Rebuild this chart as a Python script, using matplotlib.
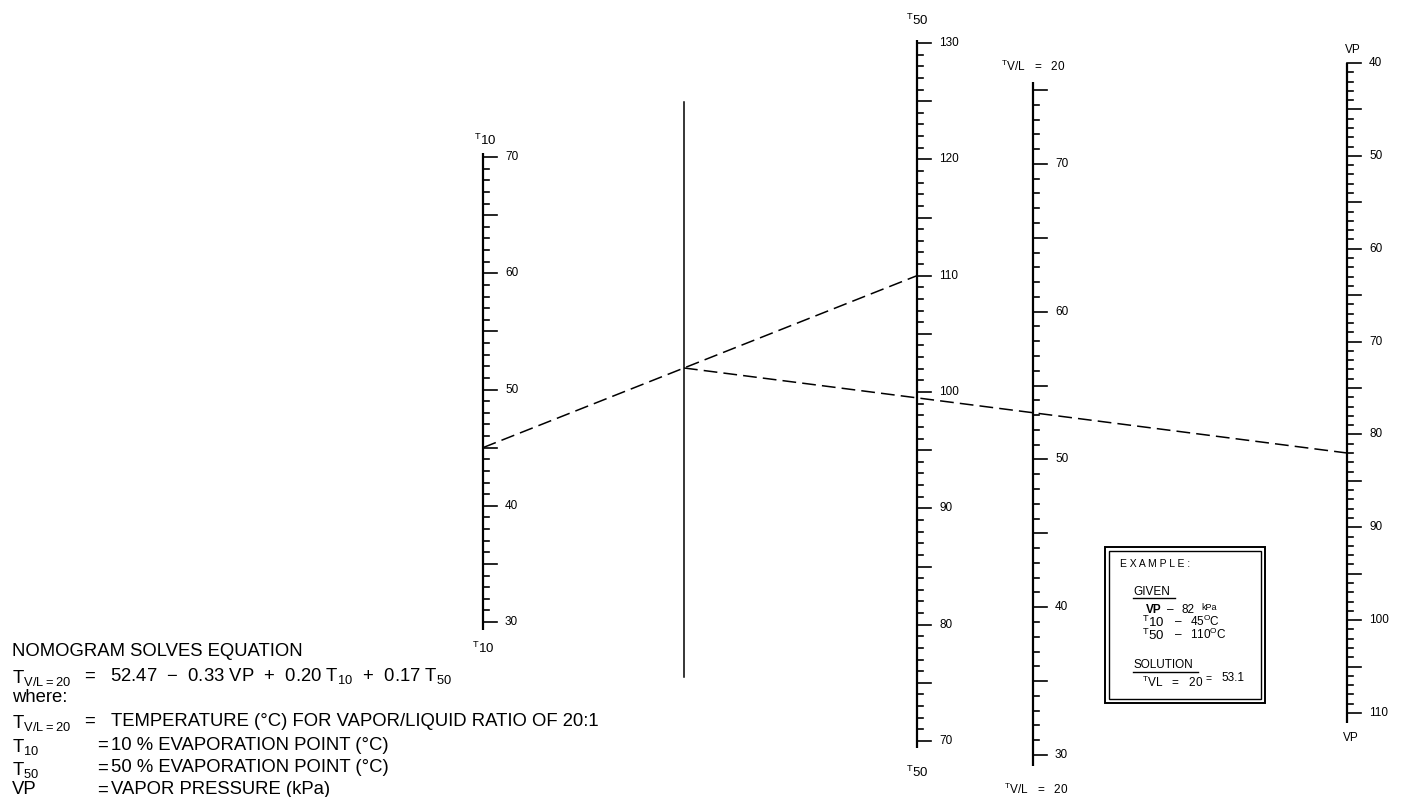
import matplotlib
matplotlib.use("Agg")
import matplotlib.pyplot as plt

plt.rcParams["font.family"] = ["Liberation Sans", "DejaVu Sans"]
plt.rcParams["mathtext.fontset"] = "custom"
plt.rcParams["mathtext.rm"] = "Liberation Sans"

# dados do nomograma
t10_faixa = (30, 70)
t50_faixa = (70, 130)
tvl_faixa = (30, 75)
vp_faixa = (40, 110)

# equacao: T_V/L=20 = a + b*VP + c*T10 + d*T50
coef_a, coef_vp, coef_t10, coef_t50 = 52.47, -0.33, 0.20, 0.17

# exemplo
ex_vp = 82
ex_t10 = 45
ex_t50 = 110
ex_tvl = coef_a + coef_vp * ex_vp + coef_t10 * ex_t10 + coef_t50 * ex_t50

# layout das escalas: x, (valor_a, y_a), (valor_b, y_b)
escalas = {
    "t10": (483, (70, 157), (30, 622)),
    "t50": (917, (130, 43), (70, 741)),
    "tvl": (1033, (75, 90), (30, 755)),
    "vp": (1347, (40, 63), (110, 713)),
}
x_pivo = 684


def y_de(escala, v):
    _, (va, ya), (vb, yb) = escalas[escala]
    return ya + (v - va) * (yb - ya) / (vb - va)


fig = plt.figure(figsize=(14.03, 7.97), dpi=100)
ax = fig.add_axes([0, 0, 1, 1])
ax.set_xlim(0, 1403)
ax.set_ylim(797, 0)
ax.axis("off")

fs_num = 8.5


def desenhar_escala(nome, faixa, topo_extra=0, base_extra=0):
    x = escalas[nome][0]
    lo, hi = faixa
    y_lo, y_hi = y_de(nome, lo), y_de(nome, hi)
    ax.plot([x, x], [min(y_lo, y_hi) - topo_extra, max(y_lo, y_hi) + base_extra],
            color="black", lw=1.6, solid_capstyle="butt")
    for v in range(lo, hi + 1):
        y = y_de(nome, v)
        comp = 14 if v % 5 == 0 else 6
        ax.plot([x, x + comp], [y, y], color="black", lw=1.2)
        if v % 10 == 0:
            ax.text(x + 22, y, str(v), fontsize=fs_num, ha="left", va="center")


desenhar_escala("t10", t10_faixa, 4, 8)
desenhar_escala("t50", t50_faixa, 3, 7)
desenhar_escala("tvl", tvl_faixa, 8, 11)
desenhar_escala("vp", vp_faixa, 0, 10)

# rotulos das escalas
rot_t10 = r"$\mathregular{{}^{T}10}$"
rot_t50 = r"$\mathregular{{}^{T}50}$"
rot_tvl = r"$\mathregular{{}^{T}V/L\ \ =\ \ 20}$"
ax.text(485, 140, rot_t10, fontsize=9.5, ha="center", va="center")
ax.text(483, 648, rot_t10, fontsize=9.5, ha="center", va="center")
ax.text(917, 20, rot_t50, fontsize=9.5, ha="center", va="center")
ax.text(917, 772, rot_t50, fontsize=9.5, ha="center", va="center")
ax.text(1033, 66, rot_tvl, fontsize=8.5, ha="center", va="center")
ax.text(1036, 789, rot_tvl, fontsize=8.5, ha="center", va="center")
ax.text(1353, 50, "VP", fontsize=8.5, ha="center", va="center")
ax.text(1351, 738, "VP", fontsize=8.5, ha="center", va="center")

# linha pivo
ax.plot([x_pivo, x_pivo], [102, 677], color="black", lw=1.1)

# linhas tracejadas do exemplo
x10, y10 = escalas["t10"][0], y_de("t10", ex_t10)
x50, y50 = escalas["t50"][0], y_de("t50", ex_t50)
y_pivo = y10 + (y50 - y10) * (x_pivo - x10) / (x50 - x10)
xvp, yvp = escalas["vp"][0], y_de("vp", ex_vp)
tracejado = dict(color="black", lw=1.1, linestyle=(0, (9, 4)))
ax.plot([x10, x50], [y10, y50], **tracejado)
ax.plot([x_pivo, xvp], [y_pivo, yvp], **tracejado)

# bloco de texto da equacao
fs_txt = 13.3
ax.text(12, 652, "NOMOGRAM SOLVES EQUATION", fontsize=fs_txt, va="center")
ax.text(12, 678, r"T$_{\mathregular{V/L=20}}$", fontsize=fs_txt, va="center")
ax.text(84, 676, "=", fontsize=fs_txt, va="center")
ax.text(110, 676,
        f"{coef_a:.2f}  −  {abs(coef_vp):.2f} VP  +  {coef_t10:.2f} T$_{{\\mathregular{{10}}}}$"
        f"  +  {coef_t50:.2f} T$_{{\\mathregular{{50}}}}$",
        fontsize=fs_txt, va="center")
ax.text(12, 697, "where:", fontsize=fs_txt, va="center")
definicoes = [
    (r"T$_{\mathregular{V/L=20}}$", "TEMPERATURE (°C) FOR VAPOR/LIQUID RATIO OF 20:1", 721, 84),
    (r"T$_{\mathregular{10}}$", "10 % EVAPORATION POINT (°C)", 745, 97),
    (r"T$_{\mathregular{50}}$", "50 % EVAPORATION POINT (°C)", 768, 97),
    ("VP", "VAPOR PRESSURE (kPa)", 790, 97),
]
for simb, desc, y, x_igual in definicoes:
    ax.text(12, y + (2 if simb != "VP" else 0), simb, fontsize=fs_txt, va="center")
    ax.text(x_igual, y, "=", fontsize=fs_txt, va="center")
    ax.text(111, y, desc, fontsize=fs_txt, va="center")

# caixa de exemplo
ax.add_patch(plt.Rectangle((1105, 547), 160, 156, fill=False, lw=1.4, ec="black"))
ax.add_patch(plt.Rectangle((1109, 551), 152, 148, fill=False, lw=1.0, ec="black"))
fs_box = 8.5
ax.text(1120, 564, "E X A M P L E :", fontsize=fs_box - 1, va="center")
ax.text(1133, 592, "GIVEN", fontsize=fs_box, va="center")
ax.plot([1133, 1175], [598, 598], color="black", lw=1.0)
ax.text(1146, 610, "VP", fontsize=fs_box, va="center", weight="bold")
ax.text(1167, 610, "–", fontsize=fs_box, va="center")
ax.text(1181, 610, f"{ex_vp}", fontsize=fs_box, va="center")
ax.text(1201, 607, "kPa", fontsize=fs_box - 2, va="center")
ax.text(1142, 622, r"$\mathregular{{}^{T}10}$", fontsize=fs_box + 1, va="center")
ax.text(1175, 622, "–", fontsize=fs_box, va="center")
ax.text(1190, 621, r"$\mathregular{%d^{O}C}$" % ex_t10, fontsize=fs_box, va="center")
ax.text(1142, 635, r"$\mathregular{{}^{T}50}$", fontsize=fs_box + 1, va="center")
ax.text(1175, 635, "–", fontsize=fs_box, va="center")
ax.text(1190, 634, r"$\mathregular{%d^{O}C}$" % ex_t50, fontsize=fs_box, va="center")
ax.text(1133, 665, "SOLUTION", fontsize=fs_box, va="center")
ax.plot([1133, 1198], [672, 672], color="black", lw=1.0)
ax.text(1142, 682, r"$\mathregular{{}^{T}VL\ \ =\ \ 20}$", fontsize=fs_box, va="center")
ax.text(1206, 679, "=", fontsize=fs_box - 1, va="center")
ax.text(1221, 678, f"{ex_tvl:.1f}", fontsize=fs_box, va="center")

fig.savefig("out.png", dpi=100)
